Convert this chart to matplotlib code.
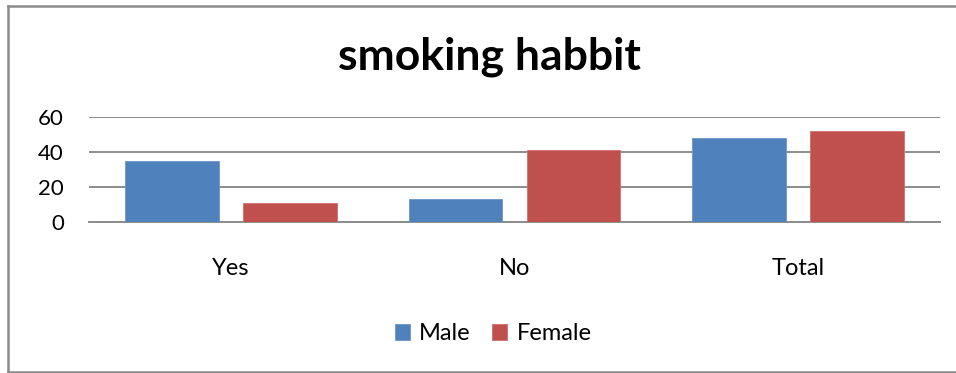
import matplotlib
matplotlib.use('Agg')
import matplotlib.pyplot as plt
from matplotlib.lines import Line2D
import numpy as np

categories = ['Yes', 'No', 'Total']
male = [35, 13, 48]
female = [11, 41, 52]

BLUE = '#4F81BD'
RED = '#C0504D'
GRID = '#8c8c8c'

plt.rcParams['font.family'] = ['Lato', 'DejaVu Sans']

fig = plt.figure(figsize=(9.56, 3.73), dpi=100)
ax = fig.add_axes([89 / 956, 1 - 222.3 / 373, (940 - 89) / 956, (222.3 - 116.7) / 373])

# chart border: left, top and bottom edges only (right edge runs off the canvas)
bx0, by0, by1 = 7.5 / 956, 1 - 371.5 / 373, 1 - 5.5 / 373
for xs, ys in [([bx0, bx0], [by0, by1]), ([bx0, 1.0], [by1, by1]), ([bx0, 1.0], [by0, by0])]:
    fig.lines.append(Line2D(xs, ys, transform=fig.transFigure, color='#8a8a8a', lw=1.8))

x = np.arange(len(categories))
w = 0.331
gap = 0.085
ax.bar(x - (w + gap) / 2, male, width=w, color=BLUE, edgecolor='#6a95c9', lw=0.6,
       label='Male', zorder=3)
ax.bar(x + (w + gap) / 2, female, width=w, color=RED, edgecolor='#cf6f6c', lw=0.6,
       label='Female', zorder=3)

ax.set_xlim(-0.5, 2.5)
ax.set_ylim(0, 60)
ax.set_yticks([0, 20, 40, 60])
ax.grid(axis='y', color=GRID, lw=1.4, zorder=0)
for s in ['top', 'right', 'left']:
    ax.spines[s].set_visible(False)
ax.spines['bottom'].set_color(GRID)
ax.spines['bottom'].set_linewidth(1.4)
ax.tick_params(axis='y', length=0, labelsize=16, pad=18)
ax.tick_params(axis='x', length=0, labelsize=17, pad=26)
ax.set_xticks(x)
ax.set_xticklabels(categories)

fig.text(489 / 956, 1 - 57 / 373, 'smoking habbit', ha='center', va='center',
         fontsize=32, fontweight='bold')

fig.legend(loc='center', bbox_to_anchor=(493 / 956, 1 - 334 / 373), ncol=2,
           frameon=False, fontsize=17, handlelength=0.64, handleheight=0.64,
           handletextpad=0.4, columnspacing=0.9)

fig.savefig('out.png', dpi=100)
